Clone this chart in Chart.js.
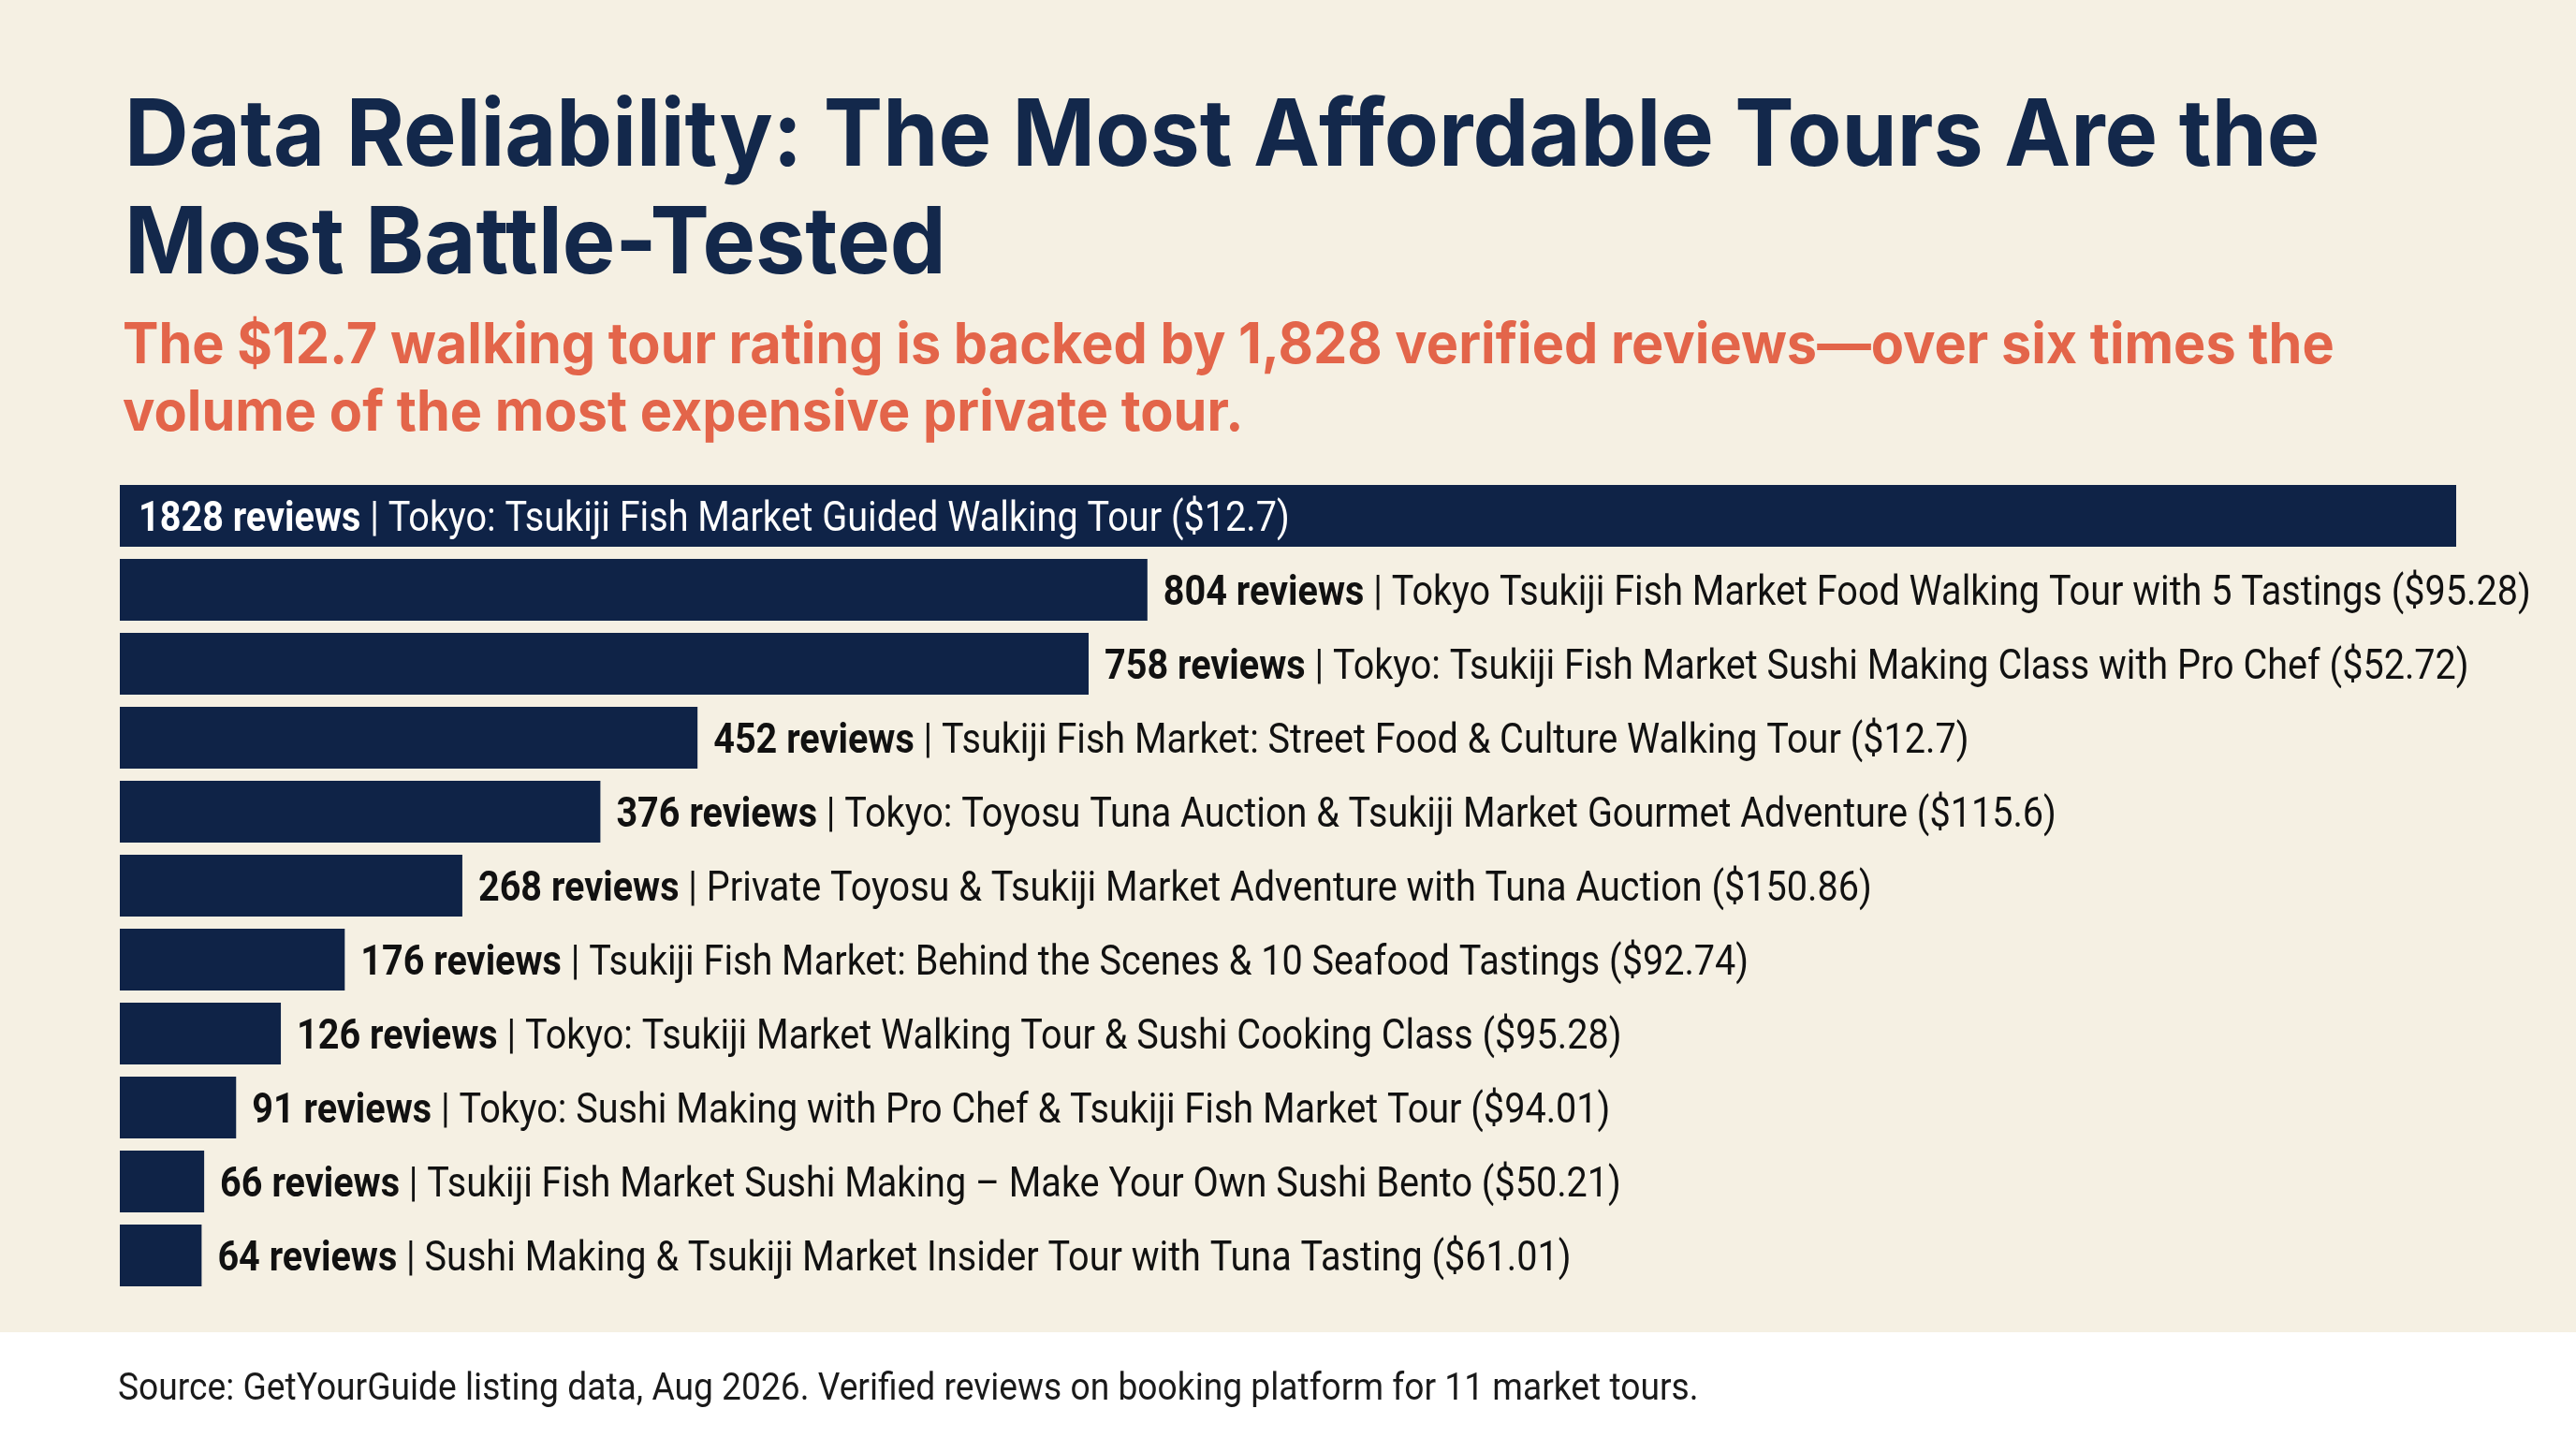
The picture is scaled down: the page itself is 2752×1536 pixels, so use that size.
<!DOCTYPE html>
<html>
<head>
<meta charset="utf-8">
<script src="https://cdn.jsdelivr.net/npm/chart.js@4.4.1/dist/chart.umd.min.js"></script>
<style>
  html, body { margin: 0; padding: 0; }
  body { width: 2752px; height: 1536px; background: #f5f0e3; position: relative; overflow: hidden; }
  #footer { position: absolute; left: 0; top: 1423px; width: 2752px; height: 113px; background: #ffffff; }
  #wrap { position: absolute; left: 0; top: 0; width: 2752px; height: 1536px; }
</style>
</head>
<body>
<div id="footer"></div>
<div id="wrap"><canvas id="graphique-avis"></canvas></div>
<script>
// Data
const reviewCounts = [1828, 804, 758, 452, 376, 268, 176, 126, 91, 66, 64];
const tourNames = [
  "Tokyo: Tsukiji Fish Market Guided Walking Tour",
  "Tokyo Tsukiji Fish Market Food Walking Tour with 5 Tastings",
  "Tokyo: Tsukiji Fish Market Sushi Making Class with Pro Chef",
  "Tsukiji Fish Market: Street Food & Culture Walking Tour",
  "Tokyo: Toyosu Tuna Auction & Tsukiji Market Gourmet Adventure",
  "Private Toyosu & Tsukiji Market Adventure with Tuna Auction",
  "Tsukiji Fish Market: Behind the Scenes & 10 Seafood Tastings",
  "Tokyo: Tsukiji Market Walking Tour & Sushi Cooking Class",
  "Tokyo: Sushi Making with Pro Chef & Tsukiji Fish Market Tour",
  "Tsukiji Fish Market Sushi Making \u2013 Make Your Own Sushi Bento",
  "Sushi Making & Tsukiji Market Insider Tour with Tuna Tasting"
];
const prices = ["12.7", "95.28", "52.72", "12.7", "115.6", "150.86", "92.74", "95.28", "94.01", "50.21", "61.01"];

const titleLines = [
  "Data Reliability: The Most Affordable Tours Are the",
  "Most Battle-Tested"
];
const subtitleLines = [
  "The $12.7 walking tour rating is backed by 1,828 verified reviews\u2014over six times the",
  "volume of the most expensive private tour."
];
const sourceText = "Source: GetYourGuide listing data, Aug 2026. Verified reviews on booking platform for 11 market tours.";

const navy = "#0f2347";

// draw text squeezed horizontally (the picture uses a narrow face)
function drawNarrow(ctx, text, x, y, sx) {
  ctx.save();
  ctx.translate(x, y);
  ctx.scale(sx, 1);
  ctx.fillText(text, 0, 0);
  ctx.restore();
  return ctx.measureText(text).width * sx;
}

const barLabels = {
  id: "barLabels",
  afterDatasetsDraw(chart) {
    const ctx = chart.ctx;
    const meta = chart.getDatasetMeta(0);
    const sx = 0.88;
    ctx.save();
    ctx.textBaseline = "alphabetic";
    for (let i = 0; i < meta.data.length; i++) {
      const bar = meta.data[i];
      const inside = i === 0;
      let x = inside ? bar.base + 20 : bar.x + 17;
      const y = bar.y + 16;
      ctx.fillStyle = inside ? "#ffffff" : "#111111";
      ctx.font = "bold 45px Roboto";
      x += drawNarrow(ctx, reviewCounts[i] + " reviews", x, y, sx);
      ctx.font = "45px Roboto";
      drawNarrow(ctx, " | " + tourNames[i] + " ($" + prices[i] + ")", x, y, sx);
    }
    ctx.restore();
  }
};

const headings = {
  id: "headings",
  afterDraw(chart) {
    const ctx = chart.ctx;
    ctx.save();
    ctx.textBaseline = "alphabetic";
    ctx.fillStyle = "#13284b";
    ctx.font = "bold 99px Inter";
    drawNarrow(ctx, titleLines[0], 133, 177, 0.96);
    drawNarrow(ctx, titleLines[1], 133, 292, 0.96);
    ctx.fillStyle = "#e3654a";
    ctx.font = "bold 60px Inter";
    drawNarrow(ctx, subtitleLines[0], 131, 388, 0.96);
    drawNarrow(ctx, subtitleLines[1], 131, 460, 0.96);
    ctx.fillStyle = "#1a1a1a";
    ctx.font = "40px Roboto";
    drawNarrow(ctx, sourceText, 126, 1495, 0.93);
    ctx.restore();
  }
};

const data = {
  labels: tourNames,
  datasets: [{
    label: "Verified reviews",
    data: reviewCounts,
    backgroundColor: navy,
    borderWidth: 0,
    barPercentage: 0.835,
    categoryPercentage: 1
  }]
};

const config = {
  type: "bar",
  data: data,
  options: {
    indexAxis: "y",
    responsive: true,
    maintainAspectRatio: false,
    animation: false,
    layout: { padding: { left: 128, right: 128, top: 511.5, bottom: 155.5 } },
    plugins: { legend: { display: false }, tooltip: { enabled: false } },
    scales: {
      x: { display: false, min: 0, max: 1828 },
      y: { display: false }
    }
  },
  plugins: [barLabels, headings]
};

new Chart(document.querySelector("#graphique-avis"), config);
</script>
</body>
</html>
